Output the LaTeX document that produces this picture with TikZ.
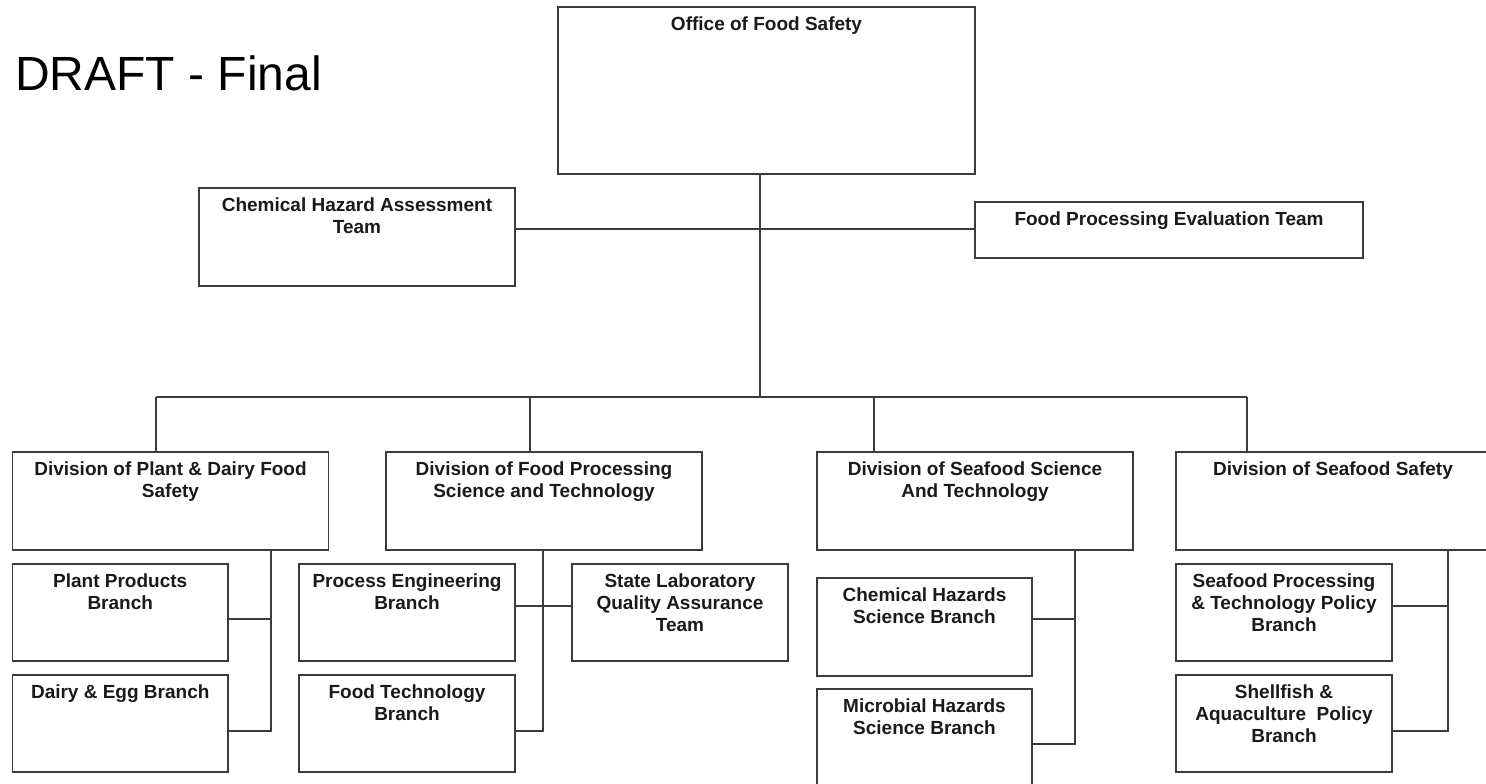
\documentclass[tikz,border=0pt]{standalone}
\usepackage{fontspec}
\setmainfont{Liberation Sans}
\usetikzlibrary{fit}
\definecolor{linegray}{HTML}{3C3C3C}
\definecolor{txt}{HTML}{1A1A1A}
\tikzset{
  orgbox/.style={draw=linegray, line width=1.7pt, inner sep=0pt, fill=none},
  orglbl/.style={anchor=north, inner sep=0pt, align=center, text=txt,
    font=\fontsize{19}{22}\selectfont\bfseries},
  conn/.style={draw=linegray, line width=1.7pt},
}
\newcommand\obox[6]{%
  \path (#2,#3) coordinate (#1-nw) (#4,#5) coordinate (#1-se);
  \node[orgbox, fit=(#1-nw)(#1-se)] (#1) {};
  \node[orglbl] (#1-t) at ([yshift=-10.5pt]#1.north) {#6};
}
\begin{document}
\begin{tikzpicture}[x=1pt,y=-1pt]
\useasboundingbox (0,0) rectangle (1486,784);
\node[anchor=base west, inner sep=0pt, font=\fontsize{48}{56}\selectfont, text=black] (draft) at (15,90) {DRAFT - Final};

\obox{off}{558}{7}{975}{174}{Office of Food Safety}
\obox{cha}{199}{188}{515}{286}{Chemical Hazard Assessment\\Team}
\obox{fpe}{975}{202}{1363}{258}{Food Processing Evaluation Team}

\obox{d1}{12.5}{452}{328.5}{550}{Division of Plant \& Dairy Food\\Safety}
\obox{d2}{386}{452}{702}{550}{Division of Food Processing\\Science and Technology}
\obox{d3}{817}{452}{1133}{550}{Division of Seafood Science\\And Technology}
\obox{d4}{1176}{452}{1490}{550}{Division of Seafood Safety}

\obox{pp}{12.5}{564}{228}{661}{Plant Products\\Branch}
\obox{de}{12.5}{675}{228}{772}{Dairy \& Egg Branch}
\obox{pe}{299}{564}{515}{661}{Process Engineering\\Branch}
\obox{ft}{299}{675}{515}{772}{Food Technology\\Branch}
\obox{sl}{572}{564}{788}{661}{State Laboratory\\Quality Assurance\\Team}
\obox{ch}{817}{578}{1032}{676}{Chemical Hazards\\Science Branch}
\obox{mh}{817}{689}{1032}{800}{Microbial Hazards\\Science Branch}
\obox{sp}{1176}{564}{1392}{661}{Seafood Processing\\\& Technology Policy\\Branch}
\obox{sh}{1176}{675}{1392}{772}{Shellfish \&\\Aquaculture~ Policy\\Branch}

% junction coordinates
\coordinate (trunk) at (760,397);
\coordinate (hj) at (760,229);
\coordinate (b1) at (156,397);
\coordinate (b2) at (530,397);
\coordinate (b3) at (874,397);
\coordinate (b4) at (1247,397);
\coordinate (j1a) at (271,619);
\coordinate (j1b) at (271,731);
\coordinate (j2a) at (543,606);
\coordinate (j2b) at (543,731);
\coordinate (j3a) at (1075,619);
\coordinate (j3b) at (1075,744);
\coordinate (j4a) at (1448,606);
\coordinate (j4b) at (1448,731);

\draw[conn] (off.south -| trunk) -- (trunk);
\draw[conn] (cha.east |- hj) -- (fpe.west |- hj);
\draw[conn] (b1) -- (b4);
\draw[conn] (b1) -- (b1 |- d1.north);
\draw[conn] (b2) -- (b2 |- d2.north);
\draw[conn] (b3) -- (b3 |- d3.north);
\draw[conn] (b4) -- (b4 |- d4.north);

\draw[conn] (d1.south -| j1a) -- (j1b) -- (de.east |- j1b);
\draw[conn] (pp.east |- j1a) -- (j1a);
\draw[conn] (d2.south -| j2a) -- (j2b) -- (ft.east |- j2b);
\draw[conn] (pe.east |- j2a) -- (sl.west |- j2a);
\draw[conn] (d3.south -| j3a) -- (j3b) -- (mh.east |- j3b);
\draw[conn] (ch.east |- j3a) -- (j3a);
\draw[conn] (d4.south -| j4a) -- (j4b) -- (sh.east |- j4b);
\draw[conn] (sp.east |- j4a) -- (j4a);
\end{tikzpicture}
\end{document}
